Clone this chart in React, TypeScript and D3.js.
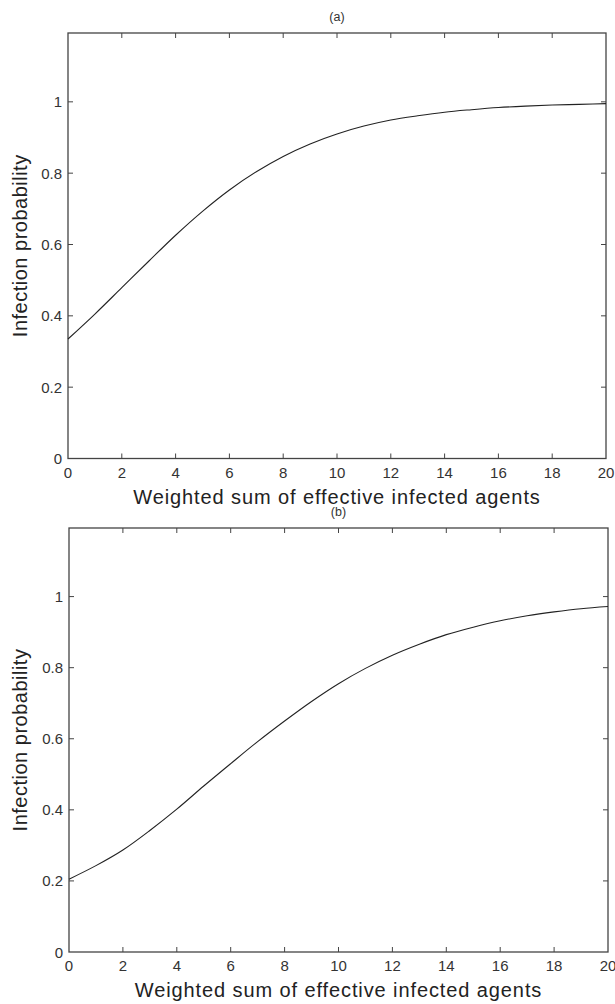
import * as d3 from "d3";

// x positions (weighted sum of effective infected agents)
const xValues = [0, 1, 2, 3, 4, 5, 6, 7, 8, 9, 10, 11, 12, 13, 14, 15, 16, 17, 18, 19, 20];
// panel (a) infection probability
const probA = [0.335, 0.405, 0.479, 0.553, 0.626, 0.693, 0.753, 0.804, 0.847, 0.882, 0.91,
  0.932, 0.949, 0.961, 0.971, 0.978, 0.984, 0.988, 0.991, 0.993, 0.995];
// panel (b)
const probB = [0.205, 0.243, 0.287, 0.342, 0.402, 0.467, 0.53, 0.592, 0.65, 0.705, 0.755,
  0.798, 0.835, 0.866, 0.893, 0.914, 0.932, 0.946, 0.957, 0.966, 0.972];

const xTicks = [0, 2, 4, 6, 8, 10, 12, 14, 16, 18, 20];
const yTicks = [0, 0.2, 0.4, 0.6, 0.8, 1];
const panelTitles = ["(a)", "(b)"];
const xLabel = "Weighted sum of effective infected agents";
const yLabel = "Infection probability";

const W = 615;
const H = 1004;
const panels = [
  { title: panelTitles[0], values: probA, left: 68, right: 606, top: 33, bottom: 458.5 },
  { title: panelTitles[1], values: probB, left: 69, right: 608, top: 528, bottom: 952 },
];

const tickFont = "'Liberation Sans', Arial, sans-serif";
const frameColor = "#444";

const Panel = ({ p }) => {
  const xScale = d3.scaleLinear().domain([0, 20]).range([p.left, p.right]);
  const yScale = d3.scaleLinear().domain([0, 1.193]).range([p.bottom, p.top]);
  const lineGen = d3
    .line<number>()
    .x((d, i) => xScale(xValues[i]))
    .y((d) => yScale(d))
    .curve(d3.curveMonotoneX);
  const midX = (p.left + p.right) / 2;
  const midY = (p.top + p.bottom) / 2;
  const tl = 5;
  return (
    <g>
      <text x={midX} y={p.top - 12} textAnchor="middle" fontSize={12.5} fill="#333" fontFamily={tickFont}>
        {p.title}
      </text>
      <rect
        x={p.left}
        y={p.top}
        width={p.right - p.left}
        height={p.bottom - p.top}
        fill="none"
        stroke={frameColor}
        strokeWidth={1.3}
      />
      {xTicks.map((t, i) => (
        <g key={"x" + i}>
          {t > 0 && t < 20 && (
            <>
              <line x1={xScale(t)} x2={xScale(t)} y1={p.bottom} y2={p.bottom - tl} stroke={frameColor} />
              <line x1={xScale(t)} x2={xScale(t)} y1={p.top} y2={p.top + tl} stroke={frameColor} />
            </>
          )}
          <text
            x={xScale(t)}
            y={p.bottom + 19}
            textAnchor="middle"
            fontSize={15}
            fill="#333"
            fontFamily={tickFont}
          >
            {t}
          </text>
        </g>
      ))}
      {yTicks.map((t, i) => (
        <g key={"y" + i}>
          {t > 0 && (
            <>
              <line x1={p.left} x2={p.left + tl} y1={yScale(t)} y2={yScale(t)} stroke={frameColor} />
              <line x1={p.right} x2={p.right - tl} y1={yScale(t)} y2={yScale(t)} stroke={frameColor} />
            </>
          )}
          <text
            x={p.left - 6}
            y={yScale(t) + 5.5}
            textAnchor="end"
            fontSize={15}
            fill="#333"
            fontFamily={tickFont}
          >
            {t === 0 ? "0" : d3.format("~g")(t)}
          </text>
        </g>
      ))}
      <path d={lineGen(p.values)} fill="none" stroke="#222" strokeWidth={1.1} />
      <text
        x={midX}
        y={p.bottom + 45}
        textAnchor="middle"
        fontSize={20}
        letterSpacing={0.9}
        fill="#222"
        fontFamily={tickFont}
      >
        {xLabel}
      </text>
      <text
        transform={`translate(27,${midY}) rotate(-90)`}
        textAnchor="middle"
        fontSize={20}
        letterSpacing={0.5}
        fill="#222"
        fontFamily={tickFont}
      >
        {yLabel}
      </text>
    </g>
  );
};

export default function App() {
  return (
    <div style={{ position: "absolute", left: 0, top: 0 }}>
      <svg width={W} height={H} style={{ display: "block", background: "#fff" }}>
        {panels.map((p, i) => (
          <Panel key={i} p={p} />
        ))}
      </svg>
    </div>
  );
}
